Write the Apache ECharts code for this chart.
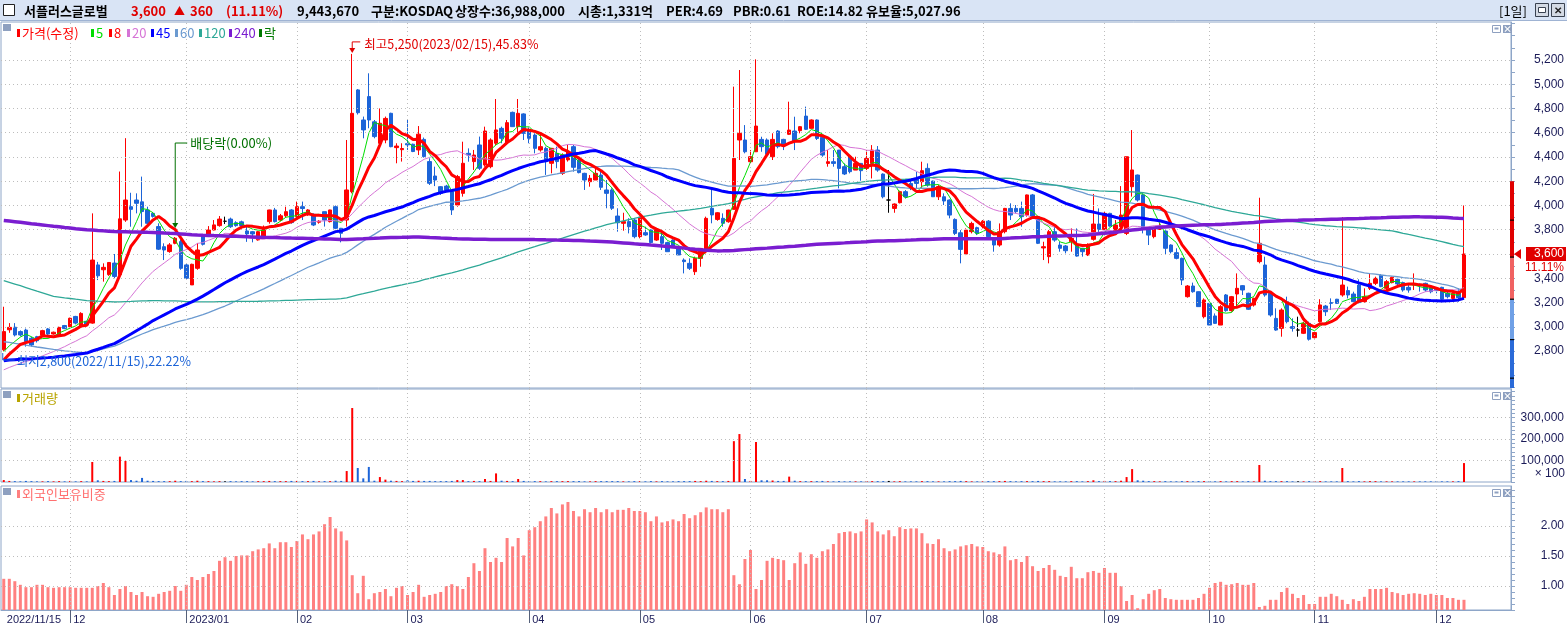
<!DOCTYPE html>
<html><head><meta charset="utf-8">
<script src="https://cdn.jsdelivr.net/npm/echarts@6/dist/echarts.min.js"></script>
<style>html,body{margin:0;padding:0;background:#fff;}#c{width:1567px;height:630px;}</style>
</head><body><div id="c"></div>
<script>
// ---------- DATA ----------
const holidays = ['2022-12-30','2023-01-23','2023-01-24','2023-03-01','2023-05-01','2023-05-05','2023-05-29','2023-06-06','2023-08-15','2023-09-28','2023-09-29','2023-10-02','2023-10-03','2023-10-09'];
const firstDay = '2022-11-15', lastDay = '2023-12-08';
const opens = [2810,2975,2996,2960,2973,2905,2918,2932,2982,2940,2925,3010,3000,3085,3005,3045,3030,3510,3470,3430,3525,3430,3880,3990,4045,4030,3963,3935,3826,3660,3620,3688,3702,3510,3345,3482,3750,3750,3798,3834,3870,3888,3858,3865,3790,3784,3716,3743,3867,3963,3880,3915,3963,3908,3990,3922,3927,3862,3949,3867,3990,3812,3880,4114,4953,4705,4898,4690,4513,4540,4760,4477,4460,4510,4505,4458,4545,4362,4243,4155,4160,4114,4004,4100,4430,4362,4499,4334,4320,4513,4636,4518,4768,4650,4755,4623,4581,4458,4471,4348,4430,4265,4376,4485,4375,4265,4196,4210,4251,4128,4128,3913,3853,3867,3880,3743,3776,3798,3715,3743,3694,3715,3647,3550,3523,3454,3564,3633,3977,3885,3894,3866,3968,4540,4540,4361,4443,4545,4540,4402,4614,4545,4587,4614,4617,4737,4636,4705,4562,4347,4361,4457,4320,4402,4292,4347,4306,4347,4457,4259,4045,3976,4023,4114,4182,4223,4196,4306,4201,4072,4072,4045,3885,3775,3600,3784,3817,3825,3871,3729,3674,3784,3976,3976,3976,3921,4087,3908,3650,3578,3784,3674,3666,3701,3674,3647,3592,3721,3847,3803,3935,3770,3825,3770,4155,4251,4087,3820,3743,3803,3789,3674,3611,3564,3248,3336,3289,3083,3193,3089,3014,3262,3133,3270,3339,3276,3179,3537,3509,3276,3069,2987,3207,3001,2973,2946,3028,2910,3042,3171,3199,3227,3262,3298,3270,3344,3207,3317,3358,3424,3317,3364,3391,3364,3325,3344,3350,3358,3331,3317,3325,3276,3234,3289,3240];
const closes = [2960,2995,2932,2932,2878,2850,2885,2968,2940,2955,2995,2985,3070,3030,3110,3015,3550,3420,3490,3530,3415,3890,4045,3968,4018,3950,3853,3910,3640,3633,3675,3730,3482,3400,3515,3633,3680,3798,3840,3888,3870,3825,3834,3835,3765,3765,3784,3820,3963,3867,3915,3949,3859,3990,3975,3963,3839,3870,3880,3963,3812,3771,4128,4760,4765,4623,4705,4568,4678,4718,4485,4490,4470,4500,4445,4588,4403,4183,4210,4100,4128,3963,4238,4348,4416,4416,4307,4614,4540,4623,4554,4683,4650,4760,4595,4554,4471,4485,4362,4471,4362,4416,4444,4315,4271,4210,4224,4265,4150,4100,3977,3858,3867,3825,3743,3902,3757,3694,3798,3688,3619,3666,3592,3537,3482,3564,3646,3894,3922,3940,3853,3962,4388,4595,4443,4402,4655,4485,4422,4545,4485,4498,4622,4526,4650,4628,4705,4553,4416,4361,4347,4306,4260,4279,4347,4287,4388,4457,4292,4072,4045,4012,4114,4072,4141,4182,4287,4168,4072,4155,4037,3921,3770,3638,3797,3852,3770,3871,3743,3674,3784,3976,3921,3949,3908,4087,3908,3688,3660,3784,3715,3647,3627,3729,3583,3619,3674,3847,3803,3935,3830,3839,3921,4402,4293,4045,3811,3756,3811,3830,3647,3619,3564,3385,3336,3289,3166,3221,3014,3028,3166,3133,3248,3317,3303,3144,3234,3688,3262,3097,2973,3138,3042,2987,2973,3028,2897,2952,3180,3124,3193,3193,3344,3262,3207,3199,3248,3358,3399,3331,3372,3408,3353,3303,3303,3353,3340,3303,3289,3298,3227,3248,3276,3240,3600];
const lows = [2800,2950,2920,2920,2836,2836,2870,2925,2930,2935,2920,2980,2995,3020,3000,3010,3025,3385,3372,3420,3400,3420,3865,3825,3935,3825,3840,3900,3633,3550,3610,3680,3470,3390,3345,3470,3670,3740,3795,3825,3847,3815,3825,3825,3700,3696,3710,3730,3850,3860,3870,3900,3850,3895,3880,3915,3830,3850,3826,3860,3805,3696,3826,4100,4750,4554,4637,4554,4513,4513,4480,4348,4362,4458,4440,4416,4395,4169,4160,4087,4115,3922,3990,4073,4361,4293,4293,4320,4307,4499,4513,4513,4650,4595,4540,4513,4430,4444,4252,4265,4307,4252,4362,4279,4265,4128,4155,4210,4128,3977,3963,3784,3792,3770,3729,3729,3750,3688,3708,3633,3619,3660,3592,3440,3468,3427,3495,3605,3853,3874,3825,3858,3968,4375,4430,4347,4443,4443,4402,4375,4471,4457,4581,4457,4595,4622,4636,4540,4402,4320,4320,4141,4251,4265,4292,4204,4292,4223,4278,4059,3940,3940,4017,4059,4127,4141,4141,4155,4072,4045,4004,3894,3756,3523,3591,3770,3756,3811,3729,3619,3660,3770,3880,3935,3825,3908,3902,3682,3550,3523,3701,3619,3605,3619,3578,3578,3583,3710,3770,3798,3825,3756,3811,3756,4073,4032,3770,3674,3729,3798,3592,3605,3556,3344,3240,3281,3166,3069,3014,3023,3014,3124,3124,3166,3262,3138,3166,3523,3248,3083,2967,2918,3028,2960,2918,2940,2886,2904,3034,3089,3138,3188,3248,3234,3199,3193,3199,3303,3344,3326,3303,3358,3344,3289,3281,3303,3290,3289,3276,3276,3216,3234,3221,3207,3235];
const highs = [3165,3030,3030,2970,2985,2918,2925,2975,2990,2960,3000,3015,3075,3090,3120,3050,3935,3535,3523,3530,3600,4280,4555,4105,4100,4238,3990,3945,3853,3688,3690,3740,3720,3520,3520,3690,3765,3830,3880,3913,3908,3900,3870,3875,3840,3790,3790,3835,3965,3980,3930,3990,3970,4032,4032,3970,3935,3880,3949,3965,4000,3815,4540,5250,4960,4733,5090,4705,4800,4733,4765,4513,4513,4710,4510,4655,4560,4389,4320,4160,4170,4128,4252,4526,4471,4458,4568,4650,4554,4878,4650,4705,4774,4878,4760,4643,4595,4581,4485,4475,4485,4430,4499,4499,4389,4270,4251,4307,4293,4210,4142,3977,3940,3895,3895,3908,3825,3803,3800,3784,3702,3721,3650,3564,3564,3578,3650,3908,4128,3945,3935,3965,4980,5117,4663,4457,5205,4567,4553,4595,4622,4550,4856,4732,4655,4815,4710,4710,4581,4457,4457,4457,4347,4416,4402,4350,4457,4498,4490,4265,4292,4017,4122,4127,4210,4278,4361,4347,4205,4168,4100,4050,3894,3797,3811,3866,3825,3880,3880,3735,3852,3980,4018,4004,4032,4090,4095,3910,3701,3798,3825,3701,3674,3811,3811,3650,3688,4095,3976,3949,3940,3880,4160,4402,4622,4255,4100,3825,3825,3858,3795,3680,3647,3570,3344,3364,3292,3234,3197,3110,3179,3270,3254,3440,3344,3281,3240,4064,3578,3280,3152,3152,3248,3069,3083,3042,3042,2960,3227,3180,3234,3230,3903,3331,3289,3391,3317,3440,3413,3435,3386,3413,3399,3372,3358,3440,3358,3364,3344,3320,3330,3303,3289,3317,4000];
const volumes = [9000,5000,4000,3000,5000,4000,3000,3000,4000,3000,4000,3000,5000,3000,4000,3000,93000,8000,5000,4000,5000,118000,98000,9000,6000,19000,6000,5000,4000,4000,4000,6000,4000,5000,4000,6000,4000,4000,3000,4000,3000,4000,3000,4000,4000,3000,4000,4000,5000,4000,4000,4000,5000,5000,4000,4000,5000,3000,4000,4000,6000,5000,51000,344000,65000,17000,70000,6000,23000,11000,6000,5000,4000,8000,5000,6000,5000,5000,4000,4000,4000,5000,9000,9000,4000,5000,4000,14000,5000,40000,6000,5000,4000,14000,5000,4000,4000,4000,3000,4000,4000,4000,4000,4000,4000,3000,3000,4000,4000,4000,4000,4000,3000,3000,4000,4000,3000,4000,3000,4000,3000,3000,4000,4000,4000,5000,4000,6000,5000,4000,4000,5000,190000,223000,14000,5000,186000,8000,8000,7000,5000,5000,25000,6000,4000,4000,4000,4000,5000,3000,3000,4000,3000,3000,3000,3000,4000,4000,4000,4000,5000,3000,4000,3000,3000,3000,4000,4000,3000,3000,3000,4000,4000,5000,4000,3000,3000,3000,4000,4000,4000,5000,4000,3000,4000,4000,4000,5000,4000,4000,3000,3000,3000,4000,4000,3000,4000,8000,4000,5000,4000,4000,6000,23000,60000,8000,6000,4000,4000,3000,4000,3000,3000,4000,4000,3000,4000,4000,4000,3000,4000,3000,4000,4000,3000,4000,3000,79000,6000,4000,4000,4000,4000,3000,3000,3000,4000,3000,4000,3000,3000,3000,65000,4000,3000,4000,3000,4000,4000,3000,3000,3000,3000,3000,3000,3000,3000,3000,3000,3000,3000,3000,3000,4000,88000];
const foreignRatio = [1.12,1.12,1.08,1.02,0.98,0.98,1.02,1.02,0.98,0.97,0.98,0.98,0.98,0.97,0.97,0.97,0.97,1.00,1.05,0.98,0.85,0.95,1.00,0.90,0.85,0.90,0.83,0.82,0.87,0.90,0.92,1.00,0.92,1.02,1.15,1.10,1.15,1.20,1.25,1.42,1.48,1.42,1.50,1.51,1.51,1.58,1.61,1.63,1.71,1.63,1.73,1.73,1.65,1.75,1.86,1.78,1.86,1.91,2.03,2.15,1.96,1.91,1.76,1.18,0.88,1.17,0.78,0.88,0.90,0.95,0.83,0.97,1.00,0.85,0.90,1.02,0.82,0.85,0.87,0.90,1.00,1.03,1.00,0.95,1.15,1.38,1.25,1.63,1.40,1.47,1.40,1.80,1.66,1.80,1.51,1.93,1.98,2.08,2.16,2.30,2.21,2.36,2.40,2.25,2.16,2.28,2.23,2.30,2.23,2.28,2.23,2.27,2.27,2.30,2.25,2.25,2.23,2.08,2.16,2.06,2.08,2.11,2.08,2.20,2.13,2.18,2.23,2.31,2.28,2.28,2.23,2.28,1.18,1.03,1.45,1.60,0.95,1.10,1.42,1.47,1.45,1.43,1.10,1.38,1.56,1.37,1.53,1.47,1.58,1.61,1.70,1.88,1.90,1.91,1.88,1.91,2.11,2.06,1.91,1.86,1.93,1.83,1.98,1.95,1.96,1.96,1.88,1.71,1.70,1.78,1.63,1.58,1.61,1.66,1.68,1.70,1.66,1.65,1.58,1.56,1.53,1.66,1.43,1.45,1.40,1.50,1.33,1.25,1.30,1.35,1.27,1.17,1.15,1.32,1.13,1.13,1.23,1.25,1.22,1.30,1.22,1.22,1.00,0.75,0.85,0.63,0.78,0.87,0.93,0.95,0.80,0.78,0.77,0.77,0.77,0.77,0.80,0.87,0.97,1.05,1.07,1.02,1.03,1.05,1.02,1.02,1.05,0.65,0.67,0.77,0.77,0.90,0.97,0.87,0.80,0.85,0.70,0.70,0.82,0.82,0.87,0.83,0.77,0.70,0.78,0.75,0.82,0.95,0.95,0.95,0.97,0.90,0.88,0.85,0.87,0.88,0.87,0.85,0.87,0.85,0.85,0.80,0.80,0.77,0.77];
// estimated closes before the visible window (count, level), oldest first — only used to warm up the moving averages
const priorCloseBlocks = [[74,4200],[55,4650],[51,3750],[15,3344],[25,2781],[12,2590],[3,2613],[4,2753]];
const maPeriods = [5,8,20,45,60,120,240];
const priceTicks = [2800,3000,3200,3400,3600,3800,4000,4200,4400,4600,4800,5000,5200];
const volumeTicks = [100000,200000,300000];
const foreignTicks = [1.00,1.50,2.00];
const rangeBarStops = [4200,3880,3575,3228,2895,2577];
const lastPrice = 3600;

// ---------- BUILD ----------
const categories = [];
(function(){
  const hol = new Set(holidays);
  let d = new Date(firstDay+'T00:00:00Z'); const end = new Date(lastDay+'T00:00:00Z');
  while (d <= end) { const wd = d.getUTCDay(); const s = d.toISOString().slice(0,10);
    if (wd!==0 && wd!==6 && !hol.has(s)) categories.push(s.replace(/-/g,'/'));
    d = new Date(d.getTime()+86400000); }
})();
const nData = categories.length;
for (let k=0;k<8;k++) categories.push('pad'+k);
const labelMap = {}; const monthStarts = [];
for (let i=0;i<nData;i++){ const c=categories[i];
  if (i===0) labelMap[i]=c;
  else if (c.slice(5,7)!==categories[i-1].slice(5,7)) { const m=c.slice(5,7); labelMap[i]= m==='01' ? c.slice(0,7) : m; monthStarts.push(i); } }
const msSet = new Set(monthStarts);

const hist=[]; priorCloseBlocks.forEach(([n,v])=>{for(let k=0;k<n;k++)hist.push(v);});
const allC = hist.concat(closes);
function ma(p){ return closes.map((_,i)=>{const e=hist.length+i; let s=0; for(let k=e-p+1;k<=e;k++) s+=allC[k]; return +(s/p).toFixed(1);}); }
const maStyle = {5:['#00dd00',1],8:['#ff0000',3],20:['#d674d6',1],45:['#0000ff',3],60:['#6b9ad0',1.3],120:['#2ea897',1.3],240:['#7a1dd0',3.5]};

const RED='#ff0000', BLUE='#1c64d8';
const candleData = closes.map((c,i)=>{ const v=[opens[i],c,lows[i],highs[i]];
  if (c===opens[i]) return {value:v,itemStyle:{color:'#000',color0:'#000',borderColor:'#000',borderColor0:'#000'}};
  return v; });
const volData = volumes.map((v,i)=>({value:v,itemStyle:{color: closes[i]>opens[i]?RED:(closes[i]<opens[i]?BLUE:'#000')}}));

const GRIDC='#bdbdbd', AX='#8ea6c8', TXT='#1b1b58';
const FONT="'Noto Sans CJK KR','Noto Sans',sans-serif";
function xAx(gi, show){ return {type:'category', gridIndex:gi, data:categories, boundaryGap:true, z:10,
  axisLine:{show:show, lineStyle:{color:AX}}, splitLine:{show:false},
  axisTick:{show:show, alignWithLabel:true, interval:(i)=>msSet.has(i), length:13, lineStyle:{color:'#55607a'}},
  axisLabel:{show:show, interval:0, align:'left', padding:[0,0,0,3], margin:4, color:TXT, fontSize:11, fontFamily:'Liberation Sans', formatter:(v,i)=>labelMap[i]||''}}; }
function yAx(gi,min,max,labels,fmt,tickVals){ return {type:'value', gridIndex:gi, position:'right', min, max, scale:true,
  axisLine:{show:true, lineStyle:{color:AX}}, splitLine:{show:false},
  axisTick:{show:true, customValues:tickVals, length:4, lineStyle:{color:AX}},
  axisLabel:{customValues:labels, formatter:fmt, align:'right', margin:53, color:TXT, fontSize:12, fontFamily:'Liberation Sans'}}; }
const fmtK = v=>Math.round(v).toLocaleString('en-US');
const gridLine = (arrY) => ({silent:true, symbol:['none','none'], animation:false, label:{show:false},
  lineStyle:{color:GRIDC, type:[1,3], width:1},
  data: arrY.map(v=>({yAxis:v})).concat(monthStarts.map(i=>({xAxis:categories[i]})))});

const priceTickMinor=[]; for(let v=2500; v<=5500; v+=100) priceTickMinor.push(v);
const volTickMinor=[]; for(let v=0; v<=420000; v+=20000) volTickMinor.push(v);
const forTickMinor=[]; for(let v=0.6; v<=2.65; v+=0.1) forTickMinor.push(+v.toFixed(2));

const series = [
 {type:'candlestick', name:'가격', xAxisIndex:0, yAxisIndex:0, data:candleData, barWidth:4,
  itemStyle:{color:RED,color0:BLUE,borderColor:RED,borderColor0:BLUE,borderWidth:1}, z:3,
  markLine: gridLine(priceTicks)}
];
maPeriods.forEach(p=>series.push({type:'line', name:'MA'+p, xAxisIndex:0, yAxisIndex:0, data:ma(p), symbol:'none', showSymbol:false,
  lineStyle:{color:maStyle[p][0], width:maStyle[p][1]}, z: maStyle[p][1]>2?5:4, silent:true}));
series.push({type:'bar', name:'거래량', xAxisIndex:1, yAxisIndex:1, data:volData, barWidth:2, markLine: gridLine(volumeTicks)});
series.push({type:'bar', name:'외국인보유비중', xAxisIndex:2, yAxisIndex:2, data:foreignRatio, barWidth:3, itemStyle:{color:'#ff8080'}, markLine: gridLine(foreignTicks)});

const option = {
  animation:false, backgroundColor:'#ffffff',
  grid:[
    {left:1,right:55,top:22,height:366,show:true,borderColor:AX,borderWidth:1,backgroundColor:'#fff'},
    {left:1,right:55,top:389,height:93,show:true,borderColor:AX,borderWidth:1,backgroundColor:'#fff'},
    {left:1,right:55,top:486,height:124,show:true,borderColor:AX,borderWidth:1,backgroundColor:'#fff'}],
  xAxis:[xAx(0,false),xAx(1,false),xAx(2,true)],
  yAxis:[yAx(0,2495,5513,priceTicks,fmtK,priceTickMinor), yAx(1,0,432500,volumeTicks,fmtK,volTickMinor), yAx(2,0.6,2.667,foreignTicks,v=>v.toFixed(2),forTickMinor)],
  series
};
const chart = echarts.init(document.getElementById('c'), null, {renderer:'canvas'});
chart.setOption(option);

// ---------- DECORATIONS ----------
const G=[];
function T(x,y,text,color,font,align){ G.push({type:'text',z:100,style:{x,y,text,fill:color,font:font||('12px '+FONT),textAlign:align||'left',align:align||'left',textVerticalAlign:'middle',verticalAlign:'middle'}}); }
function R(x,y,w,h,fill,stroke,z){ G.push({type:'rect',z:(z===undefined?90:z),shape:{x,y,width:w,height:h},style:{fill:fill||'none',stroke:stroke||null,lineWidth:1}}); }
function PL(points,color,w){ G.push({type:'polyline',z:100,shape:{points},style:{stroke:color,fill:null,lineWidth:w||1}}); }
function PG(points,color){ G.push({type:'polygon',z:100,shape:{points},style:{fill:color}}); }
// header
R(0,0,1567,20,'#d9e4f5',null,80); PL([[0,20.5],[1567,20.5]],'#9fb3d3');
R(3.5,4.5,11,11,'#fff','#222');
const HB='bold 13px '+FONT;
T(24,11,'서플러스글로벌','#000',HB); T(131,11,'3,600','#e00000',HB); T(174,11,'▲','#e00000','11px '+FONT); T(190,11,'360','#e00000',HB); T(226,11,'(11.11%)','#e00000',HB);
T(297,11,'9,443,670','#000',HB); T(371,11,'구분:KOSDAQ','#000',HB); T(455,11,'상장수:36,988,000','#000',HB); T(578,11,'시총:1,331억','#000',HB);
T(666,11,'PER:4.69','#000',HB); T(733,11,'PBR:0.61','#000',HB); T(797,11,'ROE:14.82','#000',HB); T(866,11,'유보율:5,027.96','#000',HB);
T(1499,11,'[1일]','#000','13px '+FONT);
R(1535.5,3.5,13,13,'#d4dae4','#3a4250'); R(1538.5,7.5,7,5,'#fff','#3a4250');
R(1551.5,3.5,13,13,'#d4dae4','#3a4250'); T(1558,10,'✕','#222','bold 10px '+FONT,'center');
// pane icons + legends
[[22],[389],[486]].forEach(([t])=>{ R(3,t+2,8,7,'#8ea0c0',null,95); R(1492.5,t+3.5,8,7,'#fff','#8ea0c0'); R(1494.5,t+5.5,4,2,'#8ea0c0',null,96); R(1503,t+3,9,8,'#8ea0c0',null,95); T(1507.5,t+7,'×','#fff','bold 9px '+FONT,'center'); });
const leg=[[17,'가격(수정)','#ff0000','#ff0000'],[91,'5','#00dd00','#00dd00'],[109,'8','#ff0000','#ff0000'],[127,'20','#d674d6','#d674d6'],[151,'45','#0000ff','#0000ff'],[175,'60','#6b9ad0','#6b9ad0'],[199,'120','#2ea897','#2ea897'],[229,'240','#7a1dd0','#7a1dd0'],[259,'락','#007a00','#007a00']];
leg.forEach(([x,t,bc,tc])=>{ R(x,29,3,8,bc,null,95); T(x+5,33,t,tc,'13px '+FONT); });
R(17,394,3,8,'#b8a400',null,95); T(22,398,'거래량','#b8a400','13px '+FONT);
R(17,490,3,8,'#ff8080',null,95); T(22,494,'외국인보유비중','#ff7070','13px '+FONT);
// volume unit
T(1565,474,'× 100',TXT,'12px Liberation Sans','right');
// annotations from scales
const px=(i,v)=>chart.convertToPixel({xAxisIndex:0,yAxisIndex:0},[categories[i],v]);
let hiI=0, loI=0; highs.forEach((h,i)=>{if(h>highs[hiI])hiI=i;}); lows.forEach((l,i)=>{if(l<lows[loI])loI=i;});
const hp=px(hiI,highs[hiI]);
PL([[hp[0]+8,hp[1]-12],[hp[0],hp[1]-12],[hp[0],hp[1]-4]],'#e00000'); PG([[hp[0]-3,hp[1]-6],[hp[0]+3,hp[1]-6],[hp[0],hp[1]-1]],'#e00000');
T(hp[0]+12,hp[1]-10,'최고5,250(2023/02/15),45.83%','#e00000','12.5px '+FONT);
const lp=px(loI,lows[loI]);
PL([[lp[0]-1,lp[1]+2],[lp[0]-1,lp[1]+9],[lp[0]+11,lp[1]+9]],'#1c64d8');
T(lp[0]+13,lp[1]+10,'최저2,800(2022/11/15),22.22%','#1c64d8','12.5px '+FONT);
const divI = categories.indexOf('2022/12/28'); const dp=px(divI,highs[divI]);
PL([[dp[0]+12,dp[1]-94],[dp[0],dp[1]-94],[dp[0],dp[1]-12]],'#007000'); PG([[dp[0]-3,dp[1]-14],[dp[0]+3,dp[1]-14],[dp[0],dp[1]-9]],'#007000');
T(dp[0]+15,dp[1]-94,'배당락(0.00%)','#007000','13px '+FONT);
// current price marker and range bar
const yP=v=>chart.convertToPixel({yAxisIndex:0},v);
const cy=yP(lastPrice);
const stops=rangeBarStops.concat([2495]);
for(let k=0;k<stops.length-1;k++){ const y1=yP(stops[k]), y2=yP(stops[k+1]); const col = k<2?'#e00000':(k===2?'#f06262':(k===3?'#6fa0e6':'#2a6ad8')); R(1510,y1,4,y2-y1,col,null,92); }
rangeBarStops.slice(1).forEach(v=>{ R(1510,yP(v)-0.5,4,1.2,'#000',null,93); });
PG([[1514,cy],[1521,cy-5],[1521,cy+5]],'#e00000');
R(1526,cy-7,40,14,'#e00000',null,95); T(1564,cy,'3,600','#fff','12px Liberation Sans','right');
T(1564,cy+14,'11.11%','#e00000','12px Liberation Sans','right');
chart.setOption({graphic:G});
</script></body></html>
